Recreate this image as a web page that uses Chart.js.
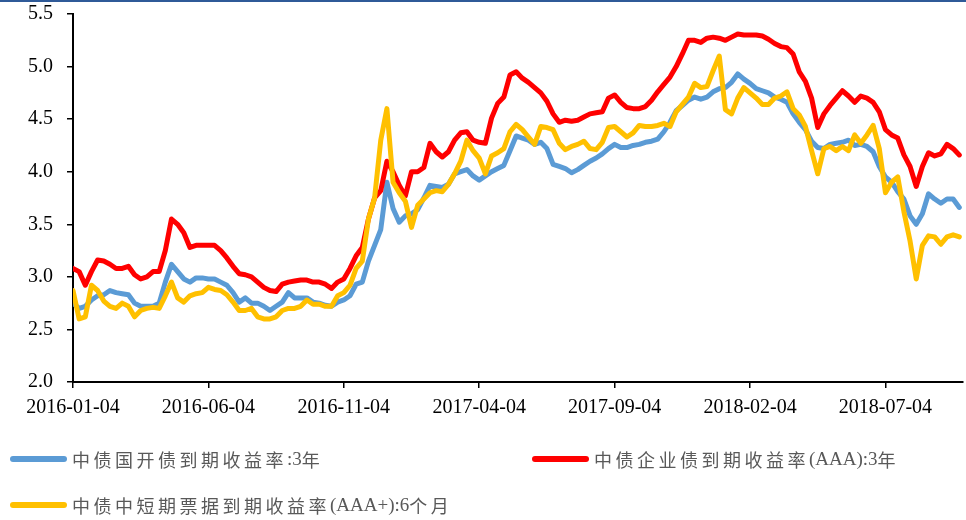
<!DOCTYPE html>
<html lang="zh-CN">
<head>
<meta charset="UTF-8">
<title>中债收益率</title>
<script src="https://cdn.jsdelivr.net/npm/chart.js"></script>
<style>
  body { margin: 0; background: #fff; }
  #wrap { width: 966px; height: 520px; }
</style>
</head>
<body>
<div id="wrap"><canvas id="yieldChart" width="966" height="520"></canvas></div>
<script>
// x axis: sample index, ticks every 22 samples
const tickLabels = ['2016-01-04', '2016-06-04', '2016-11-04', '2017-04-04', '2017-09-04', '2018-02-04', '2018-07-04'];
const tickPos = [0, 22, 44, 66, 88, 110, 132];
const xMax = 144.6;

const seriesNames = ['中债国开债到期收益率:3年', '中债企业债到期收益率(AAA):3年', '中债中短期票据到期收益率(AAA+):6个月'];
const seriesColors = ['#5b9bd5', '#ff0000', '#ffc000'];

const cdbYield = [
  2.75, 2.70, 2.72, 2.78, 2.82, 2.83, 2.87, 2.85, 2.84, 2.83,
  2.75, 2.72, 2.72, 2.72, 2.75, 2.95, 3.12, 3.05, 2.98, 2.95,
  2.99, 2.99, 2.98, 2.98, 2.95, 2.92, 2.85, 2.76, 2.80, 2.75,
  2.75, 2.72, 2.68, 2.72, 2.76, 2.85, 2.80, 2.80, 2.80, 2.76,
  2.75, 2.73, 2.72, 2.76, 2.78, 2.82, 2.93, 2.95, 3.15, 3.30,
  3.45, 3.90, 3.65, 3.52, 3.58, 3.60, 3.64, 3.75, 3.87, 3.86,
  3.85, 3.88, 3.98, 4.00, 4.02, 3.96, 3.92, 3.96, 4.00, 4.03,
  4.06, 4.20, 4.34, 4.32, 4.30, 4.26, 4.28, 4.22, 4.07, 4.05,
  4.03, 3.99, 4.02, 4.06, 4.10, 4.13, 4.17, 4.22, 4.26, 4.23,
  4.23, 4.25, 4.26, 4.28, 4.29, 4.31, 4.38, 4.47, 4.58, 4.63,
  4.68, 4.71, 4.69, 4.71, 4.76, 4.79, 4.80, 4.85, 4.93, 4.88,
  4.84, 4.79, 4.77, 4.75, 4.71, 4.69, 4.66, 4.55, 4.47, 4.40,
  4.29, 4.23, 4.22, 4.26, 4.27, 4.28, 4.30, 4.25, 4.26, 4.24,
  4.19, 4.05, 3.95, 3.90, 3.81, 3.74, 3.58, 3.50, 3.60, 3.79,
  3.74, 3.70, 3.74, 3.74, 3.66
];

const corpYield = [
  3.08, 3.05, 2.92, 3.05, 3.16, 3.15, 3.12, 3.08, 3.08, 3.10,
  3.02, 2.98, 3.00, 3.05, 3.05, 3.25, 3.55, 3.50, 3.42, 3.28,
  3.30, 3.30, 3.30, 3.30, 3.25, 3.18, 3.10, 3.03, 3.02, 3.00,
  2.95, 2.90, 2.87, 2.86, 2.93, 2.95, 2.96, 2.97, 2.97, 2.95,
  2.95, 2.93, 2.89, 2.95, 2.98, 3.08, 3.20, 3.28, 3.55, 3.75,
  3.82, 4.10, 4.00, 3.87, 3.77, 4.00, 4.00, 4.04, 4.27, 4.19,
  4.14, 4.19, 4.30, 4.37, 4.38, 4.30, 4.28, 4.27, 4.51, 4.65,
  4.71, 4.92, 4.95, 4.89, 4.85, 4.80, 4.75, 4.67, 4.55, 4.47,
  4.49, 4.48, 4.49, 4.52, 4.55, 4.56, 4.57, 4.70, 4.73, 4.66,
  4.61, 4.60, 4.60, 4.62, 4.68, 4.76, 4.83, 4.90, 5.00, 5.12,
  5.25, 5.25, 5.23, 5.27, 5.28, 5.27, 5.25, 5.28, 5.31, 5.30,
  5.30, 5.30, 5.29, 5.26, 5.22, 5.19, 5.18, 5.12, 4.95, 4.86,
  4.70, 4.42, 4.55, 4.63, 4.70, 4.77, 4.72, 4.66, 4.72, 4.70,
  4.66, 4.57, 4.40, 4.35, 4.32, 4.16, 4.05, 3.86, 4.05, 4.18,
  4.15, 4.17, 4.26, 4.22, 4.16
];

const cpYield = [
  2.87, 2.60, 2.62, 2.92, 2.87, 2.77, 2.72, 2.70, 2.75, 2.72,
  2.62, 2.68, 2.70, 2.71, 2.70, 2.82, 2.95, 2.80, 2.76, 2.82,
  2.84, 2.85, 2.90, 2.88, 2.87, 2.83, 2.76, 2.68, 2.68, 2.70,
  2.62, 2.60, 2.60, 2.62, 2.68, 2.70, 2.70, 2.72, 2.78, 2.74,
  2.74, 2.72, 2.72, 2.82, 2.85, 2.92, 3.08, 3.15, 3.55, 3.75,
  4.30, 4.60, 3.90, 3.80, 3.72, 3.47, 3.68, 3.74, 3.80, 3.82,
  3.81, 3.88, 3.98, 4.10, 4.30, 4.20, 4.13, 3.98, 4.15, 4.18,
  4.22, 4.38, 4.45, 4.40, 4.33, 4.26, 4.43, 4.42, 4.40, 4.27,
  4.21, 4.24, 4.26, 4.29, 4.22, 4.21, 4.28, 4.42, 4.43, 4.38,
  4.33, 4.37, 4.44, 4.43, 4.43, 4.44, 4.46, 4.43, 4.57, 4.64,
  4.71, 4.84, 4.80, 4.81, 4.96, 5.10, 4.59, 4.55, 4.70, 4.80,
  4.75, 4.70, 4.64, 4.64, 4.70, 4.72, 4.76, 4.60, 4.54, 4.43,
  4.20, 3.98, 4.22, 4.24, 4.20, 4.24, 4.20, 4.35, 4.27, 4.35,
  4.44, 4.22, 3.80, 3.90, 3.95, 3.62, 3.34, 2.98, 3.30, 3.39,
  3.38, 3.31, 3.38, 3.40, 3.38
];

const labels = cdbYield.map((v, i) => i);
const tickFont = { family: '"Liberation Serif", serif', size: 20 };

// chinese glyphs are spaced out in the original, latin ones are not
function drawLabel(ctx, text, x, y) {
  for (const ch of text) {
    const cjk = /[\u3000-\u9fff]/.test(ch);
    ctx.font = cjk ? '18px "Noto Sans CJK SC"' : '19px "Liberation Serif"';
    ctx.fillText(ch, x, y);
    x += ctx.measureText(ch).width + (cjk ? 3.5 : 0);
  }
}

// legend drawn under the plot, two columns like the original
const bottomLegend = {
  id: 'bottomLegend',
  afterDraw(chart) {
    const ctx = chart.ctx;
    const spots = [{ x: 13, y: 459 }, { x: 535, y: 459 }, { x: 13, y: 505 }];
    ctx.save();
    ctx.fillStyle = '#2f5a98';
    ctx.fillRect(0, 0, chart.width, 2);
    ctx.textBaseline = 'middle';
    chart.data.datasets.forEach((ds, i) => {
      const p = spots[i];
      ctx.strokeStyle = ds.borderColor;
      ctx.lineWidth = 6;
      ctx.lineCap = 'round';
      ctx.beginPath();
      ctx.moveTo(p.x, p.y);
      ctx.lineTo(p.x + 51, p.y);
      ctx.stroke();
      ctx.fillStyle = '#595959';
      drawLabel(ctx, ds.label, p.x + 59, p.y + 1);
    });
    ctx.restore();
  }
};

const ctx = document.getElementById('yieldChart').getContext('2d');
new Chart(ctx, {
  type: 'line',
  data: {
    labels: labels,
    datasets: [
      { label: seriesNames[0], data: cdbYield, borderColor: seriesColors[0], order: 2 },
      { label: seriesNames[1], data: corpYield, borderColor: seriesColors[1], order: 1 },
      { label: seriesNames[2], data: cpYield, borderColor: seriesColors[2], order: 0 }
    ]
  },
  options: {
    responsive: false,
    animation: false,
    events: [],
    devicePixelRatio: 1,
    layout: { padding: { top: 14, right: 3, bottom: 98, left: 0 } },
    elements: {
      line: { borderWidth: 5, tension: 0, borderJoinStyle: 'round', borderCapStyle: 'round' },
      point: { radius: 0 }
    },
    plugins: {
      legend: { display: false },
      tooltip: { enabled: false }
    },
    scales: {
      x: {
        type: 'linear',
        min: 0,
        max: xMax,
        afterBuildTicks: s => { s.ticks = tickPos.map(v => ({ value: v })); },
        afterFit: s => { s.height = 40; s.paddingLeft = 0; s.paddingRight = 0; },
        ticks: {
          autoSkip: false,
          maxRotation: 0,
          padding: 8,
          color: '#000',
          font: tickFont,
          callback: v => tickLabels[tickPos.indexOf(v)]
        },
        grid: { drawOnChartArea: false, drawTicks: true, tickLength: 6, color: '#000', lineWidth: 1.5 },
        border: { color: '#000', width: 2 }
      },
      y: {
        min: 2,
        max: 5.5,
        afterFit: s => { s.width = 73; s.paddingTop = 0; s.paddingBottom = 0; },
        ticks: {
          stepSize: 0.5,
          padding: 14,
          color: '#000',
          font: tickFont,
          callback: v => v.toFixed(1)
        },
        grid: { drawOnChartArea: false, drawTicks: true, tickLength: 6, color: '#000', lineWidth: 1.5 },
        border: { color: '#000', width: 2 }
      }
    }
  },
  plugins: [bottomLegend]
});
</script>
</body>
</html>
